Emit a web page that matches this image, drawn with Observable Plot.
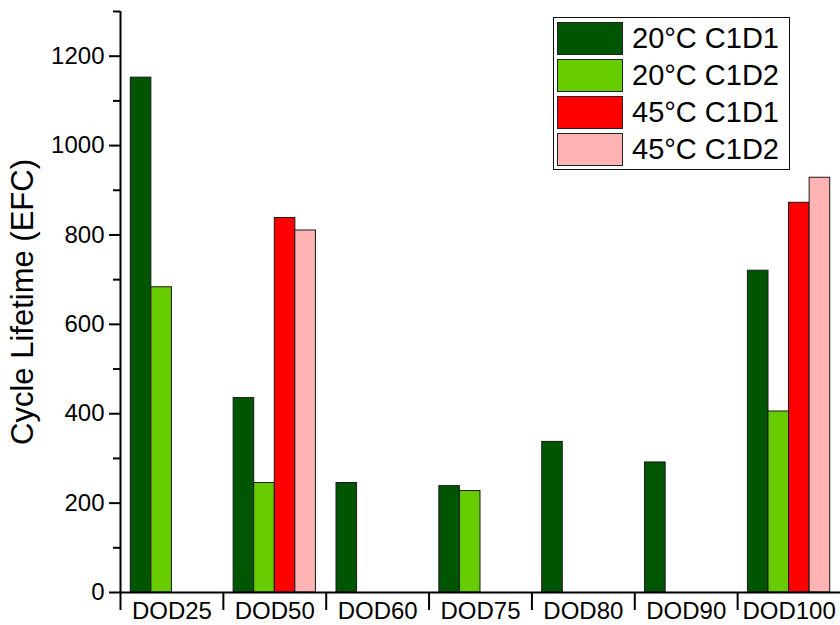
<!DOCTYPE html>
<html>
<head>
<meta charset="utf-8">
<script src="https://cdn.jsdelivr.net/npm/d3@7"></script>
<script src="https://cdn.jsdelivr.net/npm/@observablehq/plot@0.6"></script>
<style>
  html, body { margin: 0; padding: 0; background: white; }
  #wrap { position: relative; width: 840px; height: 625px; font-family: "Liberation Sans", Arial, sans-serif; }
  #legend { position: absolute; left: 553px; top: 17px; width: 235px; height: 151px; border: 1px solid #111; background: white; }
  .row { position: absolute; left: 3px; height: 33px; display: flex; align-items: center; }
  .sw { width: 64px; height: 31px; border: 1px solid #222; }
  .lab { margin-left: 9px; font-size: 29px; color: black; white-space: nowrap; }
</style>
</head>
<body>
<div id="wrap"></div>
<script>
const categories = ["DOD25", "DOD50", "DOD60", "DOD75", "DOD80", "DOD90", "DOD100"];
const series = ["20°C C1D1", "20°C C1D2", "45°C C1D1", "45°C C1D2"];
const colors = ["#005500", "#66cc00", "#ff0000", "#ffb3b3"];
const v20C1D1 = [1152, 435, 245, 238, 337, 291, 720];
const v20C1D2 = [683, 245, null, 227, null, null, 405];
const v45C1D1 = [null, 838, null, null, null, null, 872];
const v45C1D2 = [null, 810, null, null, null, null, 928];
const yMajorTicks = [0, 200, 400, 600, 800, 1000, 1200];
const yMinorTicks = [100, 300, 500, 700, 900, 1100, 1300];
const yLabel = "Cycle Lifetime (EFC)";

const seriesValues = [v20C1D1, v20C1D2, v45C1D1, v45C1D2];
const rows = [];
categories.forEach((c, i) => {
  series.forEach((s, j) => {
    const v = seriesValues[j][i];
    if (v != null) rows.push({cat: c, series: s, value: v});
  });
});

const W = 840, H = 625, ML = 120, MR = 0, MT = 11, MB = 33;
const band = (W - ML - MR) / categories.length;
const halfBand = band / 2;
const step = band / (series.length + 1);

const chart = Plot.plot({
  width: W, height: H,
  marginLeft: ML, marginRight: MR, marginTop: MT, marginBottom: MB,
  style: {fontFamily: "'Liberation Sans', Arial, sans-serif", color: "black", background: "white", overflow: "visible"},
  fx: {domain: categories, padding: 0, round: false, axis: null},
  x: {domain: series, paddingInner: 0, paddingOuter: 0.5, round: false, axis: null},
  y: {domain: [0, 1300], axis: null},
  color: {domain: series, range: colors},
  marks: [
    Plot.barY(rows, {fx: "cat", x: "series", y: "value", fill: "series", stroke: "#1a1a1a", strokeWidth: 1}),
    Plot.ruleY([0], {strokeWidth: 2, stroke: "black"}),
    Plot.ruleX([categories[0]], {fx: d => d, x: () => series[0], y1: 0, y2: 1300, dx: -step, stroke: "black", strokeWidth: 2}),
    Plot.axisY({ticks: yMajorTicks, tickSize: 11, tickPadding: 5, fontSize: 24, strokeWidth: 2,
      tickFormat: d3.format("d"), label: null}),
    Plot.axisY({ticks: yMinorTicks, tickSize: 7, tickFormat: () => "", strokeWidth: 2, label: null}),
    Plot.axisY({ticks: [], fontSize: 31, label: yLabel, labelAnchor: "center", labelArrow: "none", labelOffset: 110}),
    Plot.axisFx({anchor: "bottom", tickSize: 0, tickPadding: 9, fontSize: 24, label: null}),
    Plot.axisFx({anchor: "bottom", tickSize: 18, tickFormat: () => "", dx: -halfBand, strokeWidth: 2, label: null})
  ]
});

const wrap = document.getElementById("wrap");
wrap.appendChild(chart);

const legend = document.createElement("div");
legend.id = "legend";
series.forEach((s, i) => {
  const row = document.createElement("div");
  row.className = "row";
  row.style.top = (3.7 + 37.2 * i) + "px";
  const sw = document.createElement("div");
  sw.className = "sw";
  sw.style.background = colors[i];
  const lab = document.createElement("span");
  lab.className = "lab";
  lab.textContent = s;
  row.appendChild(sw);
  row.appendChild(lab);
  legend.appendChild(row);
});
wrap.appendChild(legend);
</script>
</body>
</html>
